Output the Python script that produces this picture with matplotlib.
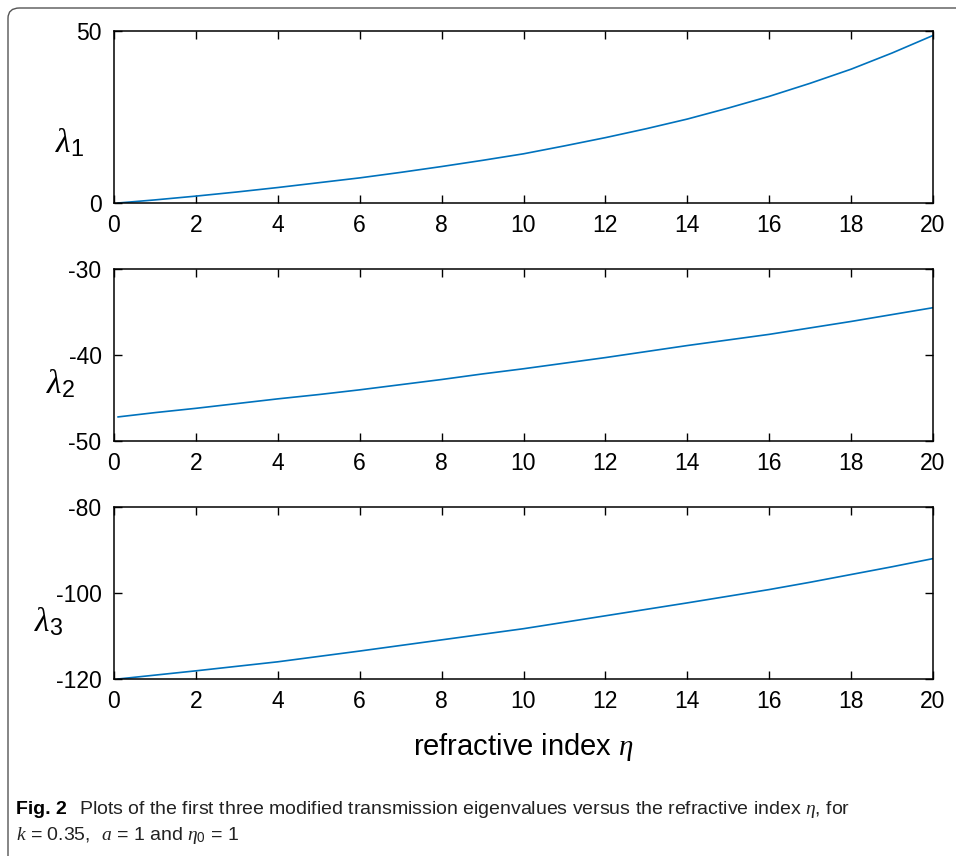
import numpy as np
import matplotlib
matplotlib.use('Agg')
import matplotlib.pyplot as plt
from matplotlib.patches import FancyBboxPatch

plt.rcParams['font.family'] = ['Liberation Sans', 'DejaVu Sans']
plt.rcParams['mathtext.fontset'] = 'custom'
plt.rcParams['mathtext.rm'] = 'Liberation Sans'
plt.rcParams['mathtext.it'] = 'Liberation Serif:italic'
plt.rcParams['axes.unicode_minus'] = False

# values
eta = [0.1, 1, 2, 3, 4, 5, 6, 7, 8, 9, 10, 11, 12, 13, 14, 15, 16, 17, 18, 19, 20]
lam1 = [0.0, 0.9, 2.0, 3.2, 4.5, 5.9, 7.3, 8.9, 10.6, 12.4, 14.3,
        16.6, 19.0, 21.6, 24.4, 27.6, 31.0, 34.8, 38.9, 43.6, 48.7]
lam2 = [-47.2, -46.7, -46.2, -45.65, -45.1, -44.6, -44.05, -43.45, -42.85, -42.2, -41.6,
        -40.95, -40.3, -39.6, -38.9, -38.25, -37.6, -36.85, -36.1, -35.3, -34.5]
lam3 = [-120.0, -119.1, -118.1, -117.05, -116.0, -114.75, -113.5, -112.2, -110.9, -109.6, -108.3,
        -106.8, -105.3, -103.8, -102.3, -100.75, -99.2, -97.5, -95.7, -93.9, -92.0]

series = [lam1, lam2, lam3]
ylims = [(0, 50), (-50, -30), (-120, -80)]
yticks = [[0, 50], [-50, -40, -30], [-120, -100, -80]]
ylabels = [r'$\lambda_{\mathrm{1}}$', r'$\lambda_{\mathrm{2}}$', r'$\lambda_{\mathrm{3}}$']
xticks = [0, 2, 4, 6, 8, 10, 12, 14, 16, 18, 20]

W, H = 956, 856
fig = plt.figure(figsize=(W / 100, H / 100), dpi=100)

# rounded frame around the figure (right and bottom run off the page)
frame = FancyBboxPatch((8 / W, -0.05), 1.2, 1 - 8 / H + 0.05,
                       boxstyle='round,pad=0,rounding_size=0.012',
                       transform=fig.transFigure, facecolor='none',
                       edgecolor='#555555', lw=1.0)
fig.patches.append(frame)

bottoms = [203, 441, 679]
label_pos = [(-0.037, 0.35), (-0.047, 0.33), (-0.062, 0.33)]

for i in range(3):
    ax = fig.add_axes([114 / W, 1 - bottoms[i] / H, 819 / W, 172 / H])
    ax.plot(eta, series[i], color='#0072BD', lw=1.2)
    ax.set_xlim(0, 20)
    ax.set_ylim(*ylims[i])
    ax.set_xticks(xticks)
    ax.set_yticks(yticks[i])
    ax.tick_params(direction='in', top=True, right=True, length=6, width=1.0,
                   labelsize=16.5)
    ax.tick_params(axis='x', pad=8)
    ax.tick_params(axis='y', pad=9)
    for s in ax.spines.values():
        s.set_linewidth(1.1)
    ax.set_ylabel(ylabels[i], rotation=0, fontsize=24, ha='right', va='center')
    ax.yaxis.set_label_coords(*label_pos[i])

ax.set_xlabel(r'refractive index $\eta$', fontsize=21, labelpad=13)

# caption
fig_lbl = fig.text(16 / W, 1 - 809 / H, 'Fig. 2', fontsize=14, fontweight='bold',
                   va='center', ha='left')
fig.canvas.draw()
x_end = fig_lbl.get_window_extent().x1
fig.text((x_end + 12) / W, 1 - 809 / H,
         r'Plots of the first three modified transmission eigenvalues versus the refractive index $\eta$, for',
         fontsize=14, va='center', ha='left', color='#222222')
fig.text(16 / W, 1 - 836 / H, r'$k$ = 0.35,  $a$ = 1 and $\eta_0$ = 1',
         fontsize=14, va='center', ha='left', color='#222222')

fig.savefig('out.png', dpi=100)
